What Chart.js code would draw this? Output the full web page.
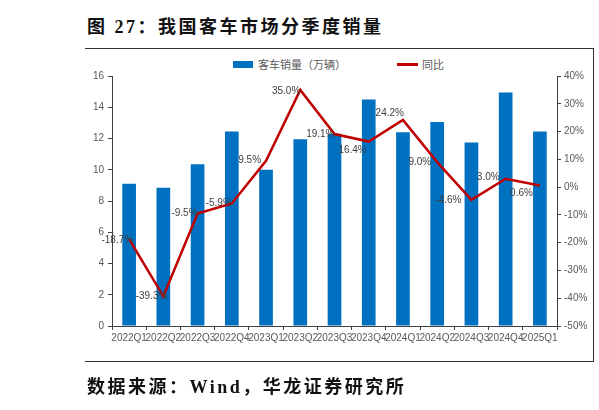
<!DOCTYPE html>
<html>
<head>
<meta charset="utf-8">
<script src="https://cdn.jsdelivr.net/npm/chart.js@4.4.1/dist/chart.umd.min.js"></script>
<style>
    html, body { margin: 0; padding: 0; background: #fff; }
    #wrap { position: relative; width: 599px; height: 410px; overflow: hidden; }
    #chart { position: absolute; left: 0; top: 0; }
    .frame { position: absolute; left: 85px; top: 48px; width: 508px; height: 312px;
        border-top: 1px solid #333; border-bottom: 1px solid #333; border-right: 1px solid #333; }
    .title, .source { position: absolute; left: 87px; font-family: 'Liberation Serif', 'Noto Sans CJK SC', serif;
        font-weight: bold; font-size: 18px; letter-spacing: 2.5px; color: #111; white-space: nowrap; }
    .title { top: 12px; }
    .source { top: 372px; }
    .legend { position: absolute; top: 56px; font-family: 'Noto Sans CJK SC', sans-serif; font-size: 11px;
        color: #595959; white-space: nowrap; }
    .legend span.sw { position: absolute; }
</style>
</head>
<body>
<div id="wrap">
    <div class="title">图 27：我国客车市场分季度销量</div>
    <div class="frame"></div>
    <div class="legend" style="left:233px;">
        <span class="sw" style="left:0; top:5px; width:20px; height:7px; background:#0070C0;"></span>
        <span style="position:absolute; left:25px; top:0;">客车销量（万辆）</span>
    </div>
    <div class="legend" style="left:397px;">
        <span class="sw" style="left:0; top:7px; width:21px; height:2.5px; background:#C00000;"></span>
        <span style="position:absolute; left:25px; top:0;">同比</span>
    </div>
    <canvas id="chart" width="599" height="410"></canvas>
    <div class="source">数据来源：Wind，华龙证券研究所</div>
</div>
<script>
const quarters = ['2022Q1', '2022Q2', '2022Q3', '2022Q4', '2023Q1', '2023Q2', '2023Q3',
    '2023Q4', '2024Q1', '2024Q2', '2024Q3', '2024Q4', '2025Q1'];
const salesWan = [9.1, 8.85, 10.35, 12.45, 10.0, 11.95, 12.3, 14.5, 12.4, 13.05, 11.75, 14.95, 12.45];
const yoyPct = [-18.7, -39.3, -9.5, -5.9, 9.5, 35.0, 19.1, 16.4, 24.2, 9.0, -4.6, 3.0, 0.6];
const salesTicks = [0, 2, 4, 6, 8, 10, 12, 14, 16];
const yoyTicks = [-50, -40, -30, -20, -10, 0, 10, 20, 30, 40];

// where each yoy label sits relative to its point (label is right-aligned)
const labelNudge = [[4, 1], [4, 0], [0, 0], [0, 0], [-5, 0], [0, 1], [0, 0],
    [-2, 9], [1, -7], [-6, 0], [-10, 0], [-6, -2], [-7, 8]];

const tickFont = { family: "'Liberation Sans', Arial, sans-serif", size: 10 };
const tickColor = '#595959';
const axisColor = '#404040';

const yoyLabels = {
    id: 'yoyLabels',
    afterDatasetsDraw(chart) {
        const meta = chart.getDatasetMeta(1);
        const ctx = chart.ctx;
        ctx.save();
        ctx.font = "10px 'Liberation Sans', Arial, sans-serif";
        ctx.fillStyle = '#404040';
        ctx.textAlign = 'right';
        ctx.textBaseline = 'middle';
        meta.data.forEach((pt, i) => {
            const [dx, dy] = labelNudge[i];
            ctx.fillText(`${yoyPct[i].toFixed(1)}%`, pt.x + dx, pt.y + dy);
        });
        ctx.restore();
    }
};

new Chart(document.getElementById('chart'), {
    type: 'bar',
    data: {
        labels: quarters,
        datasets: [
            {
                label: '客车销量（万辆）',
                data: salesWan,
                backgroundColor: '#0070C0',
                barPercentage: 0.4,
                categoryPercentage: 1,
                yAxisID: 'y',
                order: 2
            },
            {
                type: 'line',
                label: '同比',
                data: yoyPct,
                borderColor: '#C00000',
                borderWidth: 2.5,
                pointRadius: 0,
                tension: 0,
                yAxisID: 'y1',
                order: 1
            }
        ]
    },
    options: {
        responsive: false,
        animation: false,
        layout: { padding: { top: 76, bottom: 54, left: 0, right: 0 } },
        plugins: {
            legend: { display: false },
            tooltip: { enabled: false }
        },
        scales: {
            x: {
                offset: true,
                grid: { offset: true, drawOnChartArea: false, tickLength: 4, color: axisColor },
                border: { color: axisColor },
                ticks: { autoSkip: false, maxRotation: 0, font: tickFont, color: tickColor, padding: 2 },
                afterFit(scale) { scale.height = 30; }
            },
            y: {
                position: 'left',
                min: 0,
                max: 16,
                afterBuildTicks(scale) { scale.ticks = salesTicks.map(v => ({ value: v })); },
                grid: { drawOnChartArea: false, tickLength: 4, color: axisColor },
                border: { color: axisColor },
                ticks: { font: tickFont, color: tickColor, padding: 4 },
                afterFit(scale) { scale.width = 112; }
            },
            y1: {
                position: 'right',
                min: -50,
                max: 40,
                afterBuildTicks(scale) { scale.ticks = yoyTicks.map(v => ({ value: v })); },
                grid: { drawOnChartArea: false, tickLength: 4, color: axisColor },
                border: { color: axisColor },
                ticks: {
                    font: tickFont,
                    color: tickColor,
                    padding: 3,
                    callback(value) { return `${value}%`; }
                },
                afterFit(scale) { scale.width = 42; }
            }
        }
    },
    plugins: [yoyLabels]
});
</script>
</body>
</html>
